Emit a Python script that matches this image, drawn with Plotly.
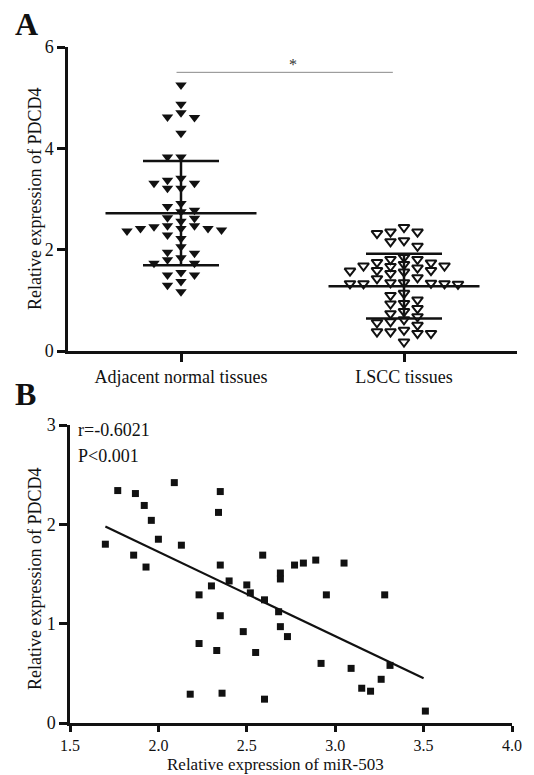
import numpy as np
import plotly.graph_objects as go

# ---------------- data ----------------
categories = ["Adjacent normal tissues", "LSCC tissues"]
normal_values = [5.25, 4.87, 4.62, 4.61, 4.70, 4.30, 3.83, 3.83, 3.37, 3.31, 3.21, 3.21, 3.31, 3.41,
                 2.85, 2.91, 2.75, 2.78, 2.62, 2.56, 2.63, 2.47, 2.39, 2.42, 2.42, 2.42, 2.29, 2.45,
                 2.37, 2.47, 2.22, 2.06, 1.93, 1.95, 1.84, 1.80, 1.73, 1.73, 1.55, 1.50, 1.50, 1.37,
                 1.30, 1.17]
lscc_values = [2.44, 2.35, 2.35, 2.32, 2.18, 2.07, 2.16, 1.81, 1.74, 1.75, 1.81, 1.85, 1.71, 1.68,
               1.67, 1.68, 1.64, 1.59, 1.56, 1.58, 1.59, 1.53, 1.45, 1.43, 1.35, 1.33, 1.33, 1.34,
               1.32, 1.35, 1.33, 1.01, 1.10, 1.14, 0.93, 0.84, 0.94, 0.78, 0.74, 0.68, 0.56, 0.51,
               0.58, 0.62, 0.38, 0.35, 0.18, 0.35, 0.38, 0.41]
group_means = [2.72, 1.28]
group_sds = [1.03, 0.64]
sig_label = "*"
y_ticks_a = [0, 2, 4, 6]

mir503 = [1.77, 1.87, 2.09, 2.35, 1.92, 2.34, 1.96, 1.70, 2.00, 2.13, 1.86, 1.93, 2.35, 2.59,
          2.69, 2.77, 2.82, 2.89, 3.05, 2.40, 2.69, 2.30, 2.50, 2.23, 2.52, 2.60, 2.95, 3.28,
          2.35, 2.68, 2.69, 2.48, 2.73, 2.23, 2.33, 2.55, 2.92, 3.09, 3.31, 3.26, 3.15, 3.20,
          2.18, 2.36, 2.60, 3.51]
pdcd4 = [2.34, 2.31, 2.42, 2.33, 2.19, 2.12, 2.04, 1.80, 1.85, 1.79, 1.69, 1.57, 1.59, 1.69,
         1.51, 1.59, 1.61, 1.64, 1.61, 1.43, 1.45, 1.38, 1.39, 1.29, 1.31, 1.24, 1.29, 1.29,
         1.08, 1.12, 0.97, 0.92, 0.87, 0.80, 0.73, 0.71, 0.60, 0.55, 0.58, 0.44, 0.35, 0.32,
         0.29, 0.30, 0.24, 0.12]
x_ticks_b = [1.5, 2.0, 2.5, 3.0, 3.5, 4.0]
y_ticks_b = [0, 1, 2, 3]
r_text = "r=-0.6021"
p_text = "P<0.001"
y_title = "Relative expression of PDCD4"
x_title_b = "Relative expression of miR-503"

# ---------------- layout helpers (pixels) ----------------
W, H = 534, 775
A_L, A_R, A_T, A_B = 68, 517, 47, 351
B_L, B_R, B_T, B_B = 70, 512, 425, 723
FONT = "Liberation Serif"
INK = "#111111"


def px(xp):
    return xp / W


def py(yp):
    return 1 - yp / H


# category axis: centers at 181 px and 404 px
cat_px = [181, 404]
unit_x = cat_px[1] - cat_px[0]
xa_range = [(A_L - cat_px[0]) / unit_x, (A_R - cat_px[0]) / unit_x]
py_per_unit_a = (A_B - A_T) / 6.0


def swarm(values, center, step_px=13.5, min_dy_px=7.0):
    order = np.argsort(values)[::-1]
    placed = []
    xs = [0.0] * len(values)
    cand = [0]
    for k in range(1, 12):
        cand += [-k, k]
    for i in order:
        v = values[i]
        for k in cand:
            if all(not (kk == k and abs(v - vv) * py_per_unit_a < min_dy_px) for kk, vv in placed):
                placed.append((k, v))
                xs[i] = center + k * step_px / unit_x
                break
    return xs


fig = go.Figure()

# ---------------- panel A ----------------
fig.add_trace(go.Scatter(
    x=swarm(normal_values, 0), y=normal_values, mode="markers",
    marker=dict(symbol="triangle-down", size=10, color=INK),
    xaxis="x", yaxis="y", showlegend=False, hoverinfo="y"))
fig.add_trace(go.Scatter(
    x=swarm(lscc_values, 1), y=lscc_values, mode="markers",
    marker=dict(symbol="triangle-down-open", size=9.5, color=INK, line=dict(width=2, color=INK)),
    xaxis="x", yaxis="y", showlegend=False, hoverinfo="y"))

mean_half = 75.5 / unit_x
sd_half = 38 / unit_x
for i, (m, s) in enumerate(zip(group_means, group_sds)):
    lx, ly = [], []
    lx += [i - mean_half, i + mean_half, None]
    ly += [m, m, None]
    lx += [i - sd_half, i + sd_half, None]
    ly += [m + s, m + s, None]
    lx += [i - sd_half, i + sd_half, None]
    ly += [m - s, m - s, None]
    lx += [i, i]
    ly += [m - s, m + s]
    fig.add_trace(go.Scatter(x=lx, y=ly, mode="lines", line=dict(color=INK, width=2.5),
                             xaxis="x", yaxis="y", showlegend=False, hoverinfo="skip"))

# significance bar
sig_y = 5.5
fig.add_shape(type="line", xref="x", yref="y", x0=-0.02, x1=0.95, y0=sig_y, y1=sig_y,
              line=dict(color="#8a8a8a", width=1))
fig.add_annotation(xref="x", yref="y", x=0.5, y=sig_y, text=sig_label, showarrow=False,
                   yanchor="bottom", yshift=-3, font=dict(family=FONT, size=16, color="#333"))

# ---------------- panel B ----------------
fig.add_trace(go.Scatter(
    x=mir503, y=pdcd4, mode="markers",
    marker=dict(symbol="square", size=7, color=INK),
    xaxis="x2", yaxis="y2", showlegend=False))
slope, intercept = np.polyfit(mir503, pdcd4, 1)
fx = np.array([min(mir503), 3.5])
fig.add_trace(go.Scatter(x=fx, y=slope * fx + intercept, mode="lines",
                         line=dict(color=INK, width=2.2),
                         xaxis="x2", yaxis="y2", showlegend=False, hoverinfo="skip"))

axis_common = dict(showgrid=False, zeroline=False, showline=True, linecolor=INK, linewidth=2.5,
                   ticks="outside", ticklen=8, tickwidth=2.5, tickcolor=INK, automargin=False,
                   tickfont=dict(family=FONT, size=18, color=INK), fixedrange=True)

fig.update_layout(
    template="none",
    width=W, height=H, margin=dict(l=0, r=0, t=0, b=0, pad=0, autoexpand=False),
    paper_bgcolor="white", plot_bgcolor="white",
    xaxis=dict(axis_common, domain=[px(A_L), px(A_R)], range=xa_range,
               tickvals=[0, 1], ticktext=categories, anchor="y"),
    yaxis=dict(axis_common, domain=[py(A_B), py(A_T)], range=[0, 6],
               tickvals=y_ticks_a, anchor="x"),
    xaxis2=dict(axis_common, domain=[px(B_L), px(B_R)], range=[1.5, 4.0],
                tickvals=x_ticks_b, tickformat=".1f", anchor="y2", ticklen=6,
                tickfont=dict(family=FONT, size=16, color=INK)),
    yaxis2=dict(axis_common, domain=[py(B_B), py(B_T)], range=[0, 3],
                tickvals=y_ticks_b, anchor="x2"),
)

# texts
fig.add_annotation(xref="paper", yref="paper", x=px(13), y=py(24), text="<b>A</b>",
                   showarrow=False, xanchor="left", yanchor="middle",
                   font=dict(family=FONT, size=32, color=INK))
fig.add_annotation(xref="paper", yref="paper", x=px(13), y=py(394), text="<b>B</b>",
                   showarrow=False, xanchor="left", yanchor="middle",
                   font=dict(family=FONT, size=32, color=INK))
for yc in (199, 579):
    fig.add_annotation(xref="paper", yref="paper", x=px(35), y=py(yc), text=y_title,
                       textangle=-90, showarrow=False, xanchor="center", yanchor="middle",
                       font=dict(family=FONT, size=18, color=INK))
fig.add_annotation(xref="paper", yref="paper", x=px(275), y=py(775), text=x_title_b,
                   showarrow=False, xanchor="center", yanchor="bottom", borderpad=0,
                   font=dict(family=FONT, size=17, color=INK))
fig.add_annotation(xref="paper", yref="paper", x=px(76), y=py(430), text=r_text,
                   showarrow=False, xanchor="left", yanchor="middle",
                   font=dict(family=FONT, size=18, color=INK))
fig.add_annotation(xref="paper", yref="paper", x=px(76), y=py(456), text=p_text,
                   showarrow=False, xanchor="left", yanchor="middle",
                   font=dict(family=FONT, size=18, color=INK))

fig.write_html("out.html", config={"displayModeBar": False},
               post_script="document.body.style.margin='0';document.body.style.overflow='hidden';")
